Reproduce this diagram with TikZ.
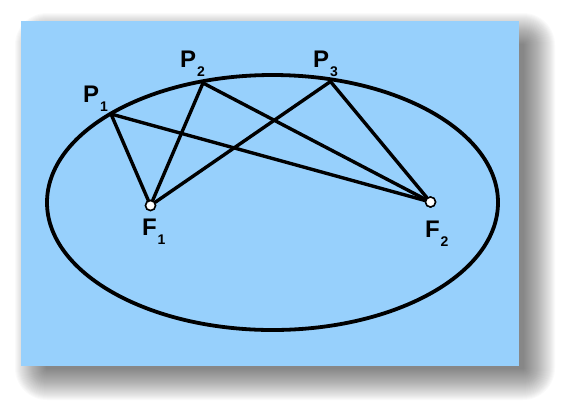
\documentclass[tikz,border=0pt]{standalone}
\usepackage{fontspec}
\setmainfont{Liberation Sans}
\newcommand\subidx[1]{\kern0.8pt\raisebox{-9.5pt}{\fontsize{14}{14}\selectfont #1}}
\definecolor{panelblue}{RGB}{151,208,252}
\tikzset{
  seg/.style={line width=3.4pt, line cap=round, line join=round},
  focus/.style={circle, draw, fill=white, line width=1.5pt, minimum size=10pt, inner sep=0pt},
  lbl/.style={anchor=base west, inner sep=0pt, font=\fontsize{24}{24}\selectfont\bfseries}
}
\begin{document}
\begin{tikzpicture}[x=1pt,y=-1pt]
\useasboundingbox (0,0) rectangle (561,408);
% blurred drop shadow
\foreach \i in {1,...,32}{
  \fill[black, opacity=0.02, rounded corners={1.0*\i pt}]
    ({47-1.0*\i},{45-1.0*\i}) rectangle ({523+1.0*\i},{368+1.0*\i});
}
% panel
\fill[panelblue] (21,21) rectangle (519,366);
% ellipse
\draw[line width=3.8pt] (272.5,202.5) ellipse [x radius=225.5pt, y radius=127.5pt];
% points
\coordinate (P1) at (111,114);
\coordinate (P2) at (203,83);
\coordinate (P3) at (330.5,81.5);
\node[focus] (F1) at (150.5,205.5) {};
\node[focus] (F2) at (430.5,202) {};
% segments
\draw[seg] (P1) -- (F1);
\draw[seg] (P1) -- (F2);
\draw[seg] (P2) -- (F1);
\draw[seg] (P2) -- (F2);
\draw[seg] (P3) -- (F1);
\draw[seg] (P3) -- (F2);
% redraw foci on top
\node[focus] at (F1) {};
\node[focus] at (F2) {};
% labels
\node[lbl] (L1) at (83,102) {P\subidx{1}};
\node[lbl] (L2) at (180,67) {P\subidx{2}};
\node[lbl] (L3) at (313,67) {P\subidx{3}};
\node[lbl] (L4) at (142,235) {F\subidx{1}};
\node[lbl] (L5) at (425,237) {F\subidx{2}};
\end{tikzpicture}
\end{document}
